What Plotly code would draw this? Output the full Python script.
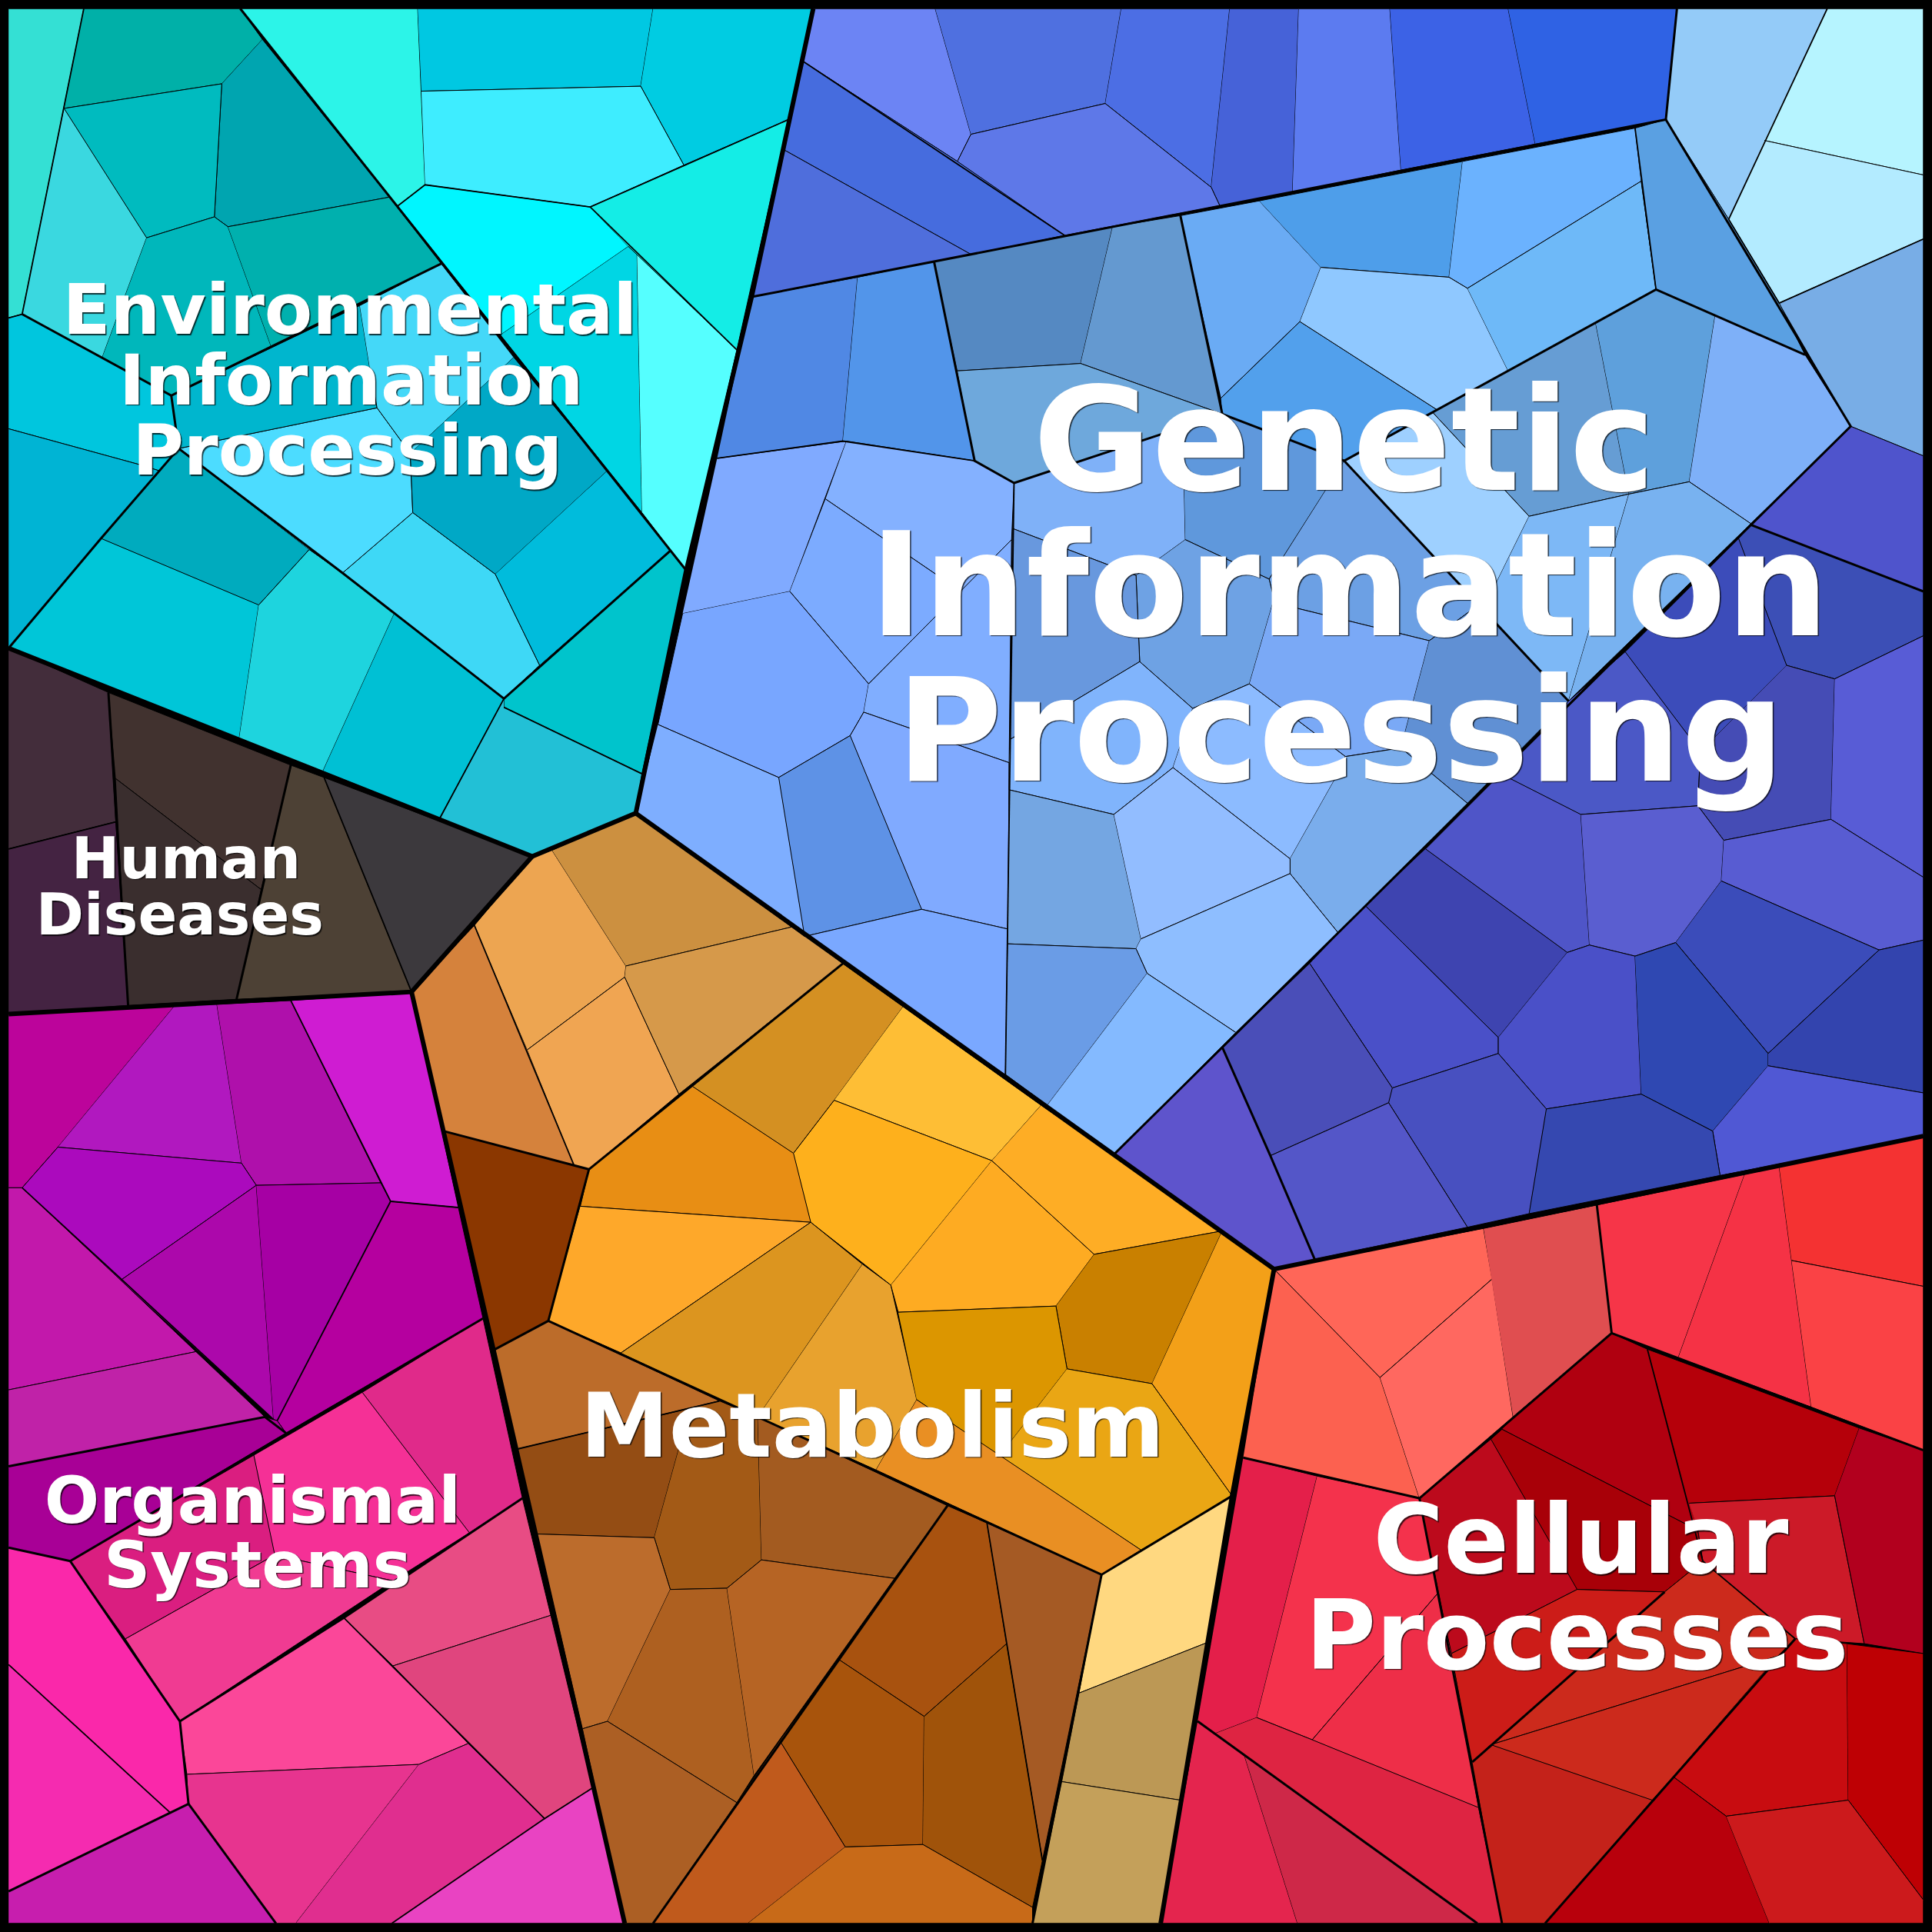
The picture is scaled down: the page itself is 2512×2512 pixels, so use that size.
import plotly.graph_objects as go

# Voronoi treemap cells (units: reference picture, 0..1568)
environmental_cells = [
 [(7,7),(68,7),(18,255),(7,258)],
 [(68,7),(195,7),(213,32),(180,68),(52,88)],
 [(213,32),(316,160),(185,184),(174,176),(180,68)],
 [(52,88),(180,68),(174,176),(119,193)],
 [(52,88),(119,193),(83,290),(18,255)],
 [(119,193),(174,176),(185,184),(220,281),(139,321),(83,290)],
 [(185,184),(316,160),(358,214),(220,281)],
 [(195,7),(339,7),(345,150),(323,167)],
 [(339,7),(530,7),(520,70),(342,74)],
 [(530,7),(660,7),(640,97),(555,134),(520,70)],
 [(342,74),(520,70),(555,134),(479,168),(345,150)],
 [(323,167),(345,150),(479,168),(510,200),(406,272)],
 [(510,200),(517,206),(521,416),(406,272)],
 [(517,206),(598,284),(557,463),(521,416)],
 [(479,168),(640,97),(598,284),(510,200)],
 [(7,258),(18,255),(139,321),(145,364),(129,382),(113,377),(7,348)],
 [(7,348),(113,377),(129,382),(82,437),(7,526)],
 [(82,437),(145,364),(251,446),(210,491)],
 [(7,526),(82,437),(210,491),(194,600)],
 [(210,491),(251,446),(278,465),(320,498),(262,626),(194,600)],
 [(320,498),(409,567),(357,664),(262,626)],
 [(278,465),(335,416),(402,466),(438,540),(409,567),(320,498)],
 [(145,364),(306,331),(333,368),(335,416),(278,465),(251,446)],
 [(139,321),(292,248),(300,298),(306,331),(145,364)],
 [(292,248),(358,214),(417,290),(333,368),(306,331),(300,298)],
 [(417,290),(493,382),(402,466),(335,416),(333,368)],
 [(493,382),(544,447),(438,540),(402,466)],
 [(544,447),(557,463),(521,628),(409,574),(409,567),(438,540)],
 [(409,574),(521,628),(516,660),(432,695),(357,664),(409,567)],
]
environmental_colors = ["#34E0D4","#00B0A8","#00A5B0","#00BBBF","#3AD8E0","#00B7BB","#00B0AE",
 "#2CF4E8","#00C8E2","#00CCE2","#3EEDFF","#00F6FF","#00D6E4","#55FFFF","#14EDE6",
 "#00C6DE","#00B4D4","#00ABBE","#00C6D8","#1ED4DE","#00C0D4","#3ED8F6","#4CDCFF",
 "#00B6CE","#44D8F8","#00A8C6","#00BCDC","#00C4CC","#22C0D6"]

human_cells = [
 [(7,526),(88,562),(94,667),(7,689)],
 [(7,689),(94,667),(104,816),(7,823)],
 [(88,562),(236,621),(212,722),(94,632)],
 [(94,632),(212,722),(192,811),(104,816)],
 [(236,621),(263,631),(334,805),(192,811)],
 [(263,631),(432,695),(334,805)],
]
human_colors = ["#432D3B","#442342","#41322F","#3A2E2E","#4D4135","#3C393D"]

organismal_cells = [
 [(7,823),(142,816),(47,931),(18,964),(7,964)],
 [(142,816),(176,815),(196,944),(47,931)],
 [(176,815),(236,812),(309,960),(208,962),(196,944)],
 [(236,812),(334,805),(372,980),(317,975)],
 [(18,964),(47,931),(196,944),(208,962),(98,1039)],
 [(98,1039),(208,962),(222,1152)],
 [(208,962),(309,960),(317,975),(225,1153),(222,1152)],
 [(317,975),(372,980),(392,1070),(232,1163),(225,1153)],
 [(7,964),(18,964),(98,1039),(159,1097),(7,1128)],
 [(7,1128),(159,1097),(215,1150),(7,1190)],
 [(7,1190),(215,1150),(225,1153),(232,1163),(57,1267),(7,1256)],
 [(294,1130),(392,1070),(424,1216),(381,1244)],
 [(206,1181),(294,1130),(381,1244),(319,1283),(223,1262)],
 [(57,1267),(206,1181),(223,1262),(102,1330)],
 [(102,1330),(223,1262),(319,1283),(146,1397)],
 [(279,1313),(424,1216),(447,1311),(319,1352)],
 [(319,1352),(447,1311),(481,1451),(442,1476),(380,1415)],
 [(146,1397),(279,1313),(319,1352),(380,1415),(340,1432),(152,1440)],
 [(152,1440),(340,1432),(240,1561),(224,1561),(153,1464)],
 [(340,1432),(380,1415),(442,1476),(318,1561),(240,1561)],
 [(442,1476),(481,1451),(507,1561),(318,1561)],
 [(7,1256),(57,1267),(146,1397),(153,1464),(138,1471),(7,1351)],
 [(7,1351),(138,1471),(7,1535)],
 [(7,1535),(153,1464),(224,1561),(7,1561)],
]
organismal_colors = ["#BC049B","#B118BF","#AF10AB","#CF1CD2","#AB0ABD","#AC08AB","#A600A4","#B5009F",
 "#C218AB","#C022A8","#A80096","#E02A8A","#F53096","#DA1E80","#F03B92","#E84C84","#E0457E",
 "#FB4799","#E7348F","#E02E8F","#E943C2","#FA28AA","#F52BB0","#C71EAE"]

metabolism_cells = [
 [(334,805),(385,751),(428,852),(466,946),(360,918)],
 [(385,751),(432,695),(448,690),(508,784),(507,793),(428,852)],
 [(428,852),(507,793),(551,888),(478,949),(466,946)],
 [(448,690),(516,660),(644,752),(508,784)],
 [(508,784),(644,752),(684,782),(551,888),(507,793)],
 [(360,918),(478,949),(445,1072),(400,1096)],
 [(561,881),(684,782),(733,817),(677,893),(644,936)],
 [(733,817),(845,897),(805,942),(677,893)],
 [(644,936),(677,893),(805,942),(723,1043),(658,992)],
 [(561,881),(644,936),(658,992),(471,979),(478,949)],
 [(471,979),(658,992),(504,1098),(445,1072)],
 [(504,1098),(658,992),(700,1026),(615,1150)],
 [(700,1026),(723,1043),(744,1136),(711,1193),(615,1150)],
 [(805,942),(888,1018),(857,1060),(729,1065),(723,1043)],
 [(845,897),(992,999),(888,1018),(805,942)],
 [(888,1018),(992,999),(935,1123),(866,1111),(857,1060)],
 [(729,1065),(857,1060),(866,1111),(811,1182),(744,1136)],
 [(866,1111),(935,1123),(1000,1214),(926,1258),(811,1182)],
 [(744,1136),(926,1258),(894,1278),(711,1193)],
 [(992,999),(1034,1030),(1000,1214),(935,1123)],
 [(894,1278),(1000,1214),(980,1333),(876,1374)],
 [(876,1374),(980,1333),(958,1461),(862,1446)],
 [(862,1446),(958,1461),(942,1561),(838,1561)],
 [(400,1096),(445,1072),(584,1137),(420,1176)],
 [(420,1176),(560,1143),(531,1248),(436,1245)],
 [(560,1143),(584,1137),(615,1150),(618,1266),(590,1289),(544,1290),(531,1248)],
 [(615,1150),(769,1222),(726,1281),(618,1266)],
 [(436,1245),(531,1248),(544,1290),(493,1397),(473,1403)],
 [(544,1290),(590,1289),(612,1441),(598,1463),(493,1397)],
 [(590,1289),(618,1266),(726,1281),(612,1441)],
 [(769,1222),(801,1236),(817,1334),(750,1393),(681,1347)],
 [(801,1236),(894,1278),(846,1510),(817,1334)],
 [(473,1403),(493,1397),(598,1463),(530,1561),(507,1561)],
 [(681,1347),(750,1393),(749,1497),(686,1499),(633,1413)],
 [(750,1393),(817,1334),(846,1510),(838,1548),(749,1497)],
 [(633,1413),(686,1499),(607,1561),(530,1561)],
 [(686,1499),(749,1497),(838,1548),(838,1561),(607,1561)],
]
metabolism_colors = ["#D5823C","#EDA551","#F0A552","#CC9040","#D6994A","#8B3700",
 "#D49022","#FEBE35","#FEB01C","#E88E14","#FEA82A","#DC951F","#E8A22E","#FEAB22","#FEAD25",
 "#C98000","#DC9600","#EAA614","#E98F23","#F3A018","#FFD880","#BC9855","#C4A05A",
 "#BC6C2A","#944D14","#A35A16","#A35B20","#BC6C2C","#AE6020","#B66424","#A8520F","#A55A24",
 "#AC5F24","#A8540C","#A0530A","#C05A1C","#C86A18"]

genetic_cells = [
 [(660,7),(759,7),(788,109),(777,131),(652,50)],
 [(759,7),(910,7),(897,84),(788,109)],
 [(910,7),(998,7),(983,152),(897,84)],
 [(998,7),(1054,7),(1049,156),(990,167),(983,152)],
 [(1054,7),(1128,7),(1137,138),(1049,156)],
 [(1128,7),(1224,7),(1246,117),(1137,138)],
 [(1224,7),(1361,7),(1352,97),(1246,117)],
 [(777,131),(788,109),(897,84),(983,152),(990,167),(864,191)],
 [(652,50),(777,131),(864,191),(789,207),(637,122)],
 [(637,122),(789,207),(610,241)],
 [(1361,7),(1483,7),(1403,178),(1352,97)],
 [(1483,7),(1561,7),(1561,142),(1432,114)],
 [(1432,114),(1561,142),(1561,194),(1444,246),(1403,178)],
 [(1444,246),(1561,194),(1561,370),(1502,346)],
 [(610,241),(696,225),(684,358),(582,372)],
 [(696,225),(758,212),(791,374),(684,358)],
 [(758,212),(903,184),(877,295),(777,301)],
 [(903,184),(958,175),(992,336),(877,295)],
 [(777,301),(877,295),(992,336),(823,392),(791,374)],
 [(958,175),(1022,163),(1072,217),(1055,261),(991,323)],
 [(991,323),(1055,261),(1167,333),(1091,374),(992,336)],
 [(1022,163),(1187,131),(1176,225),(1072,217)],
 [(1187,131),(1327,104),(1332,147),(1191,234),(1176,225)],
 [(1072,217),(1176,225),(1191,234),(1224,301),(1167,333),(1055,261)],
 [(1191,234),(1332,147),(1344,235),(1224,301)],
 [(1327,104),(1352,97),(1403,178),(1444,246),(1465,288),(1344,235),(1332,147)],
 [(1224,301),(1295,262),(1322,401),(1241,419),(1163,335)],
 [(1295,262),(1344,235),(1392,256),(1371,391),(1322,401)],
 [(1392,256),(1465,288),(1502,346),(1421,425),(1371,391)],
 [(1091,374),(1163,335),(1241,419),(1203,496)],
 [(1241,419),(1322,401),(1273,569),(1203,496)],
 [(1322,401),(1371,391),(1421,425),(1273,569)],
 [(582,372),(687,358),(641,480),(554,498)],
 [(687,358),(791,374),(823,392),(821,438),(780,480),(670,405)],
 [(670,405),(780,480),(705,555),(641,480)],
 [(641,480),(705,555),(701,578),(690,597),(632,631),(534,588),(554,498)],
 [(705,555),(821,438),(819,619),(701,578)],
 [(690,597),(701,578),(819,619),(818,754),(748,738)],
 [(632,631),(690,597),(748,738),(653,760)],
 [(534,588),(632,631),(653,760),(516,660)],
 [(653,760),(748,738),(818,754),(816,872)],
 [(823,392),(960,347),(962,438),(922,467),(822,429)],
 [(960,347),(992,336),(1091,374),(1041,453),(1030,470),(962,438)],
 [(1091,374),(1200,491),(1160,520),(1054,494),(1034,486),(1030,470),(1041,453)],
 [(962,438),(1030,470),(1034,486),(1014,555),(968,575),(925,537),(922,467)],
 [(822,429),(922,467),(925,537),(820,600)],
 [(820,600),(925,537),(968,575),(952,623),(904,661),(819,641),(819,619)],
 [(968,575),(1014,555),(1092,614),(1083,633),(1047,697),(952,623)],
 [(1034,486),(1054,494),(1160,520),(1137,607),(1092,614),(1014,555)],
 [(1160,520),(1200,491),(1273,569),(1191,652),(1137,607)],
 [(1083,633),(1092,614),(1137,607),(1191,652),(1086,757),(1047,709),(1047,697)],
 [(819,641),(904,661),(926,762),(922,770),(818,766)],
 [(904,661),(952,623),(1047,697),(1047,709),(926,762)],
 [(926,762),(1047,709),(1086,757),(1003,838),(931,790),(922,770)],
 [(818,766),(922,770),(931,790),(850,897),(816,872)],
 [(931,790),(1003,838),(904,937),(850,897)],
 [(1421,426),(1502,346),(1561,370),(1561,480)],
 [(1411,437),(1421,426),(1561,480),(1561,516),(1489,551),(1450,540)],
 [(1319,529),(1411,437),(1450,540),(1380,610)],
 [(1218,628),(1273,569),(1319,529),(1380,610),(1378,654),(1283,661)],
 [(1450,540),(1489,551),(1486,665),(1399,682),(1378,654),(1380,610)],
 [(1489,551),(1561,516),(1561,712),(1486,665)],
 [(1157,689),(1218,628),(1283,661),(1290,767),(1272,773)],
 [(1283,661),(1378,654),(1399,682),(1397,715),(1360,765),(1327,776),(1290,767)],
 [(1399,682),(1486,665),(1561,712),(1561,763),(1525,771),(1397,715)],
 [(1397,715),(1525,771),(1435,855),(1360,765)],
 [(1157,689),(1272,773),(1216,842),(1108,735)],
 [(1108,735),(1216,842),(1216,855),(1130,883),(1063,782)],
 [(1272,773),(1290,767),(1327,776),(1332,888),(1255,900),(1216,855),(1216,842)],
 [(1327,776),(1360,765),(1435,855),(1435,865),(1390,918),(1332,888)],
 [(1435,855),(1525,771),(1561,763),(1561,887),(1435,865)],
 [(1435,865),(1561,887),(1561,922),(1396,954),(1390,918)],
 [(1255,900),(1332,888),(1390,918),(1396,954),(1241,985)],
 [(1130,883),(1216,855),(1255,900),(1241,985),(1191,996),(1127,895)],
 [(1063,782),(1130,883),(1127,895),(1031,938),(992,850)],
 [(1031,938),(1127,895),(1191,996),(1067,1022)],
 [(992,850),(1031,938),(1067,1022),(1034,1030),(904,937)],
]
genetic_colors = ["#6C84F4","#4F70E0","#4C6EE4","#4662D8","#5C7BF0","#3C62E6","#2F62E4","#5E78E8","#466CDE","#4F6EDC",
 "#94CBF8","#B6F4FF","#B3EBFF","#78ADE6","#5088E4","#5295EA","#5589C2","#6499D0","#6EA8DC","#6AABF4","#52A0EC",
 "#4E9EEA","#6BB2FE","#8FC8FF","#6EB9F8","#5AA0E2","#669DD4","#5EA0DC","#7EB0F8","#9ED0FF","#7DB8F6","#78B2F0",
 "#80AAFF","#84B1FF","#7CABFF","#78A6FF","#80AEFF","#80AAFF","#5E92E6","#7EAEFF","#7AA8FF","#7FB1F8","#5F98DC",
 "#6CA0E4","#6EA2E4","#6898DE","#80B4FC","#8CBBFF","#7AA9F6","#6090D4","#7AADEC","#74A6E2","#92BDFF",
 "#8EBEFF","#6A9CE6","#84BAFF","#4F54CC","#3C4FB6","#3C4CBA","#4B58C6","#454CB5","#585CD6","#4F55C8","#5A5ED0",
 "#585CD2","#3B4CBA","#3E44B0","#4A50C8","#4A50C8","#2F48B2","#3344AE","#5058D4","#3548B0","#4850C0","#4A4EB8",
 "#5456C8","#5E54CC"]

cellular_cells = [
 [(1034,1030),(1204,997),(1211,1038),(1120,1118)],
 [(1034,1030),(1120,1118),(1152,1216),(1009,1183)],
 [(1120,1118),(1211,1038),(1228,1150),(1152,1216)],
 [(1204,997),(1296,978),(1308,1082),(1228,1150)],
 [(1296,978),(1416,953),(1362,1102),(1308,1082)],
 [(1416,953),(1444,947),(1454,1023),(1470,1142),(1362,1102)],
 [(1444,947),(1561,922),(1561,1044),(1454,1023)],
 [(1454,1023),(1561,1044),(1561,1177),(1470,1142)],
 [(1228,1150),(1308,1082),(1337,1095),(1378,1242),(1219,1160)],
 [(1210,1168),(1219,1160),(1378,1242),(1382,1267),(1351,1292),(1280,1290)],
 [(1152,1216),(1210,1168),(1280,1290),(1178,1342)],
 [(1178,1342),(1280,1290),(1351,1292),(1195,1430)],
 [(1351,1292),(1382,1267),(1457,1330),(1443,1344),(1210,1416),(1195,1430)],
 [(1210,1416),(1443,1344),(1358,1442),(1341,1461)],
 [(1195,1430),(1210,1416),(1341,1461),(1254,1561),(1219,1561)],
 [(1337,1095),(1509,1159),(1489,1214),(1371,1220)],
 [(1371,1220),(1489,1214),(1513,1334),(1457,1330),(1382,1267),(1378,1242)],
 [(1509,1159),(1561,1177),(1561,1342),(1513,1334),(1489,1214)],
 [(1443,1344),(1457,1330),(1499,1334),(1500,1461),(1401,1474),(1358,1442)],
 [(1499,1334),(1561,1342),(1561,1542),(1500,1461)],
 [(1358,1442),(1401,1474),(1436,1561),(1254,1561)],
 [(1401,1474),(1500,1461),(1561,1542),(1561,1561),(1436,1561)],
 [(1009,1183),(1069,1198),(1020,1394),(986,1407),(972,1397)],
 [(1069,1198),(1152,1216),(1167,1293),(1065,1412),(1020,1394)],
 [(1065,1412),(1167,1293),(1178,1342),(1200,1467)],
 [(1020,1394),(1065,1412),(1200,1467),(1219,1561),(1199,1561),(986,1407)],
 [(972,1397),(1010,1425),(1053,1561),(942,1561)],
 [(1010,1425),(1199,1561),(1053,1561)],
]
cellular_colors = ["#FF6658","#FC6150","#FF6860","#E04E50","#F63548","#F53245","#F43232","#FA4245",
 "#B00010","#A80008","#BC0A1C","#CC1C18","#CC2A1C","#CC2A1C","#C4221A","#B5000A","#CC1A28","#B2001E",
 "#C80C10","#BE0004","#B8000C","#CC1A1C","#E41F4A","#F4324C","#EE2E48","#DE2442","#E4254E","#CE2848"]

# Boundaries of the hierarchy: level 1 = top categories, level 2 / 3 = nested groups
level1_lines = [
 [(7,526),(432,695),(516,660),(557,463),(610,241),(660,7)],
 [(432,695),(334,805),(7,823)],
 [(334,805),(507,1561)],
 [(516,660),(904,937),(1034,1030)],
 [(1034,1030),(1561,922)],
 [(1034,1030),(1000,1214),(942,1561)],
]
level2_lines = [
 [(195,7),(557,463)],[(18,255),(139,321),(358,214)],
 [(139,321),(145,364),(82,437),(7,526)],[(145,364),(278,465),(409,567),(544,447)],
 [(88,562),(104,816)],[(236,621),(192,811)],
 [(392,1070),(57,1267),(146,1397),(153,1464)],[(57,1267),(7,1256)],[(146,1397),(279,1313),(424,1216)],
 [(7,1190),(215,1150),(232,1163)],[(7,1535),(153,1464),(224,1561)],
 [(478,949),(684,782)],[(360,918),(478,949),(445,1072),(400,1096)],[(445,1072),(894,1278),(1000,1214)],
 [(894,1278),(838,1561)],[(769,1222),(530,1561)],
 [(610,241),(1352,97),(1361,7)],[(1352,97),(1502,346),(904,937)],[(758,212),(791,374),(823,392)],
 [(823,392),(992,336),(1091,374)],[(958,175),(992,336)],[(1091,374),(1273,569)],
 [(1091,374),(1344,235),(1465,288)],[(1421,426),(1561,480)],[(992,850),(1031,938),(1067,1022)],
 [(1009,1183),(1152,1216),(1308,1082),(1296,978)],[(1308,1082),(1561,1177)],[(1152,1216),(1219,1561)],
 [(1457,1330),(1254,1561)],[(972,1397),(1199,1561)],[(1195,1430),(1351,1292)],
]
level3_lines = [
 [(68,7),(18,255),(7,258)],[(409,567),(357,664)],[(409,574),(521,628)],
 [(323,167),(345,150),(479,168),(640,97)],[(479,168),(598,284)],
 [(7,689),(94,667)],[(263,631),(334,805)],
 [(18,964),(222,1152)],[(317,975),(225,1153)],[(236,812),(317,975),(372,980)],
 [(279,1313),(442,1476),(481,1451)],[(442,1476),(318,1561)],[(7,1351),(138,1471)],
 [(420,1176),(584,1137)],[(385,751),(466,946)],[(801,1236),(846,1510)],
 [(823,392),(816,872)],[(582,372),(684,358),(791,374)],[(1327,104),(1344,235)],[(652,50),(864,191)],
 [(1403,178),(1483,7)],[(1403,178),(1444,246),(1561,194)],
 [(1337,1095),(1382,1267),(1457,1330)],
]

# Labels
label_lines = ["Environmental","Information","Processing","Human","Diseases","Organismal","Systems",
               "Metabolism","Cellular","Processes","Genetic","Information","Processing"]
label_x = [284,285,282,151,146,205,209,708,1283,1280,1091,1095,1088]
label_y = [257,314,371,701,747,1223,1275,1164,1257,1335,368,486,604]
label_px = [91,91,91,75,75,84,84,116,125,125,188,188,188]

fig = go.Figure()
regions = [(environmental_cells, environmental_colors), (human_cells, human_colors),
           (organismal_cells, organismal_colors), (metabolism_cells, metabolism_colors),
           (genetic_cells, genetic_colors), (cellular_cells, cellular_colors)]
for cells, colors in regions:
    for poly, col in zip(cells, colors):
        fig.add_trace(go.Scatter(x=[p[0] for p in poly], y=[p[1] for p in poly], mode="lines",
                                 fill="toself", fillcolor=col, line=dict(color="black", width=1),
                                 hoverinfo="skip", showlegend=False))

def add_lines(lines, width):
    xs, ys = [], []
    for ln in lines:
        xs += [p[0] for p in ln] + [None]
        ys += [p[1] for p in ln] + [None]
    fig.add_trace(go.Scatter(x=xs, y=ys, mode="lines", line=dict(color="black", width=width),
                             hoverinfo="skip", showlegend=False))
add_lines(level3_lines, 1.8)
add_lines(level2_lines, 3)
add_lines(level1_lines, 6)

for t, x, y, s in zip(label_lines, label_x, label_y, label_px):
    fig.add_trace(go.Scatter(x=[x], y=[y], mode="text", text=[f"<b>{t}</b>"], textposition="middle center",
                             textfont=dict(family="DejaVu Sans", size=s, color="white",
                                           shadow="1.5px 1.5px 1px rgba(0,0,0,0.75)"),
                             hoverinfo="skip", showlegend=False))

fig.update_layout(width=2512, height=2512, margin=dict(l=0, r=0, t=0, b=0),
                  paper_bgcolor="black", plot_bgcolor="black", showlegend=False,
                  xaxis=dict(range=[0, 1568], visible=False, fixedrange=True),
                  yaxis=dict(range=[1568, 0], visible=False, fixedrange=True))
fig.write_html("out.html", config=dict(displayModeBar=False),
               post_script="document.body.style.margin='0';document.body.style.background='black';")
